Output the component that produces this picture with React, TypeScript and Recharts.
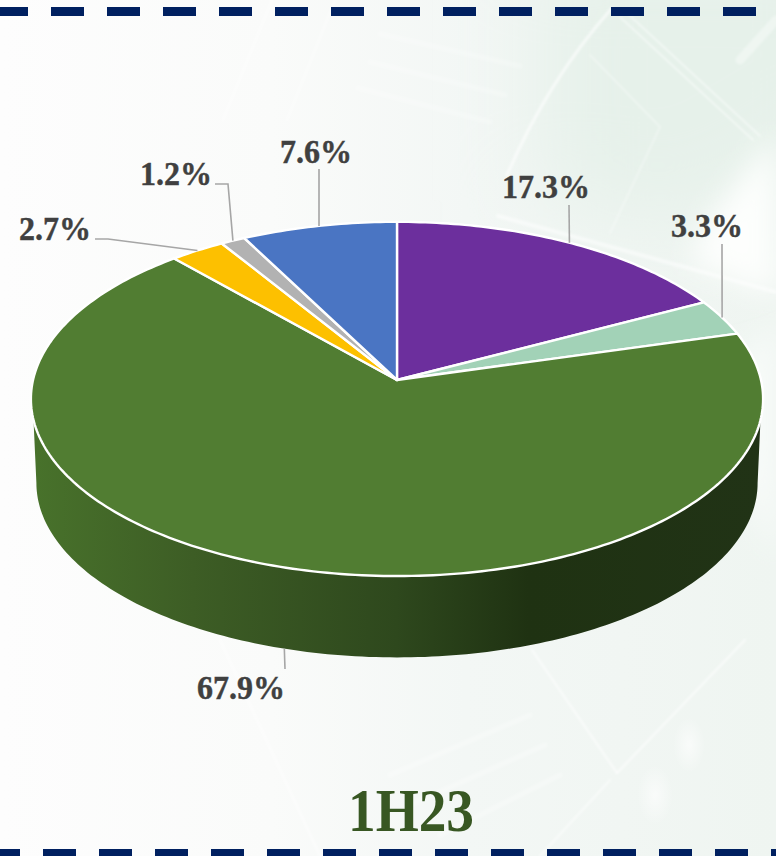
import { PieChart, Pie, Cell } from 'recharts';

const categories = ['Purple', 'Mint', 'Green', 'Amber', 'Gray', 'Blue'];
const shares = [17.3, 3.3, 67.9, 2.7, 1.2, 7.6];
const sliceColors = ['#6c2f9d', '#a2d2b7', '#517d32', '#fdc000', '#b2b2b2', '#4a75c3'];
const periodLabel = '1H23';

const chartData = categories.map((name, i) => ({ name, value: shares[i] }));

// hand placed label spots, one per slice, same order as shares
const labelLayout = [
    { onBase: false, bends: [[569, 205]], x: 502, y: 198, width: 88 },
    { onBase: false, bends: [[722, 244]], x: 671, y: 237, width: 72 },
    { onBase: true, bends: [[285, 669]], x: 197, y: 699, width: 88 },
    { onBase: false, bends: [[108, 239], [95, 239]], x: 19, y: 240, width: 72 },
    { onBase: false, bends: [[228, 184], [215, 184]], x: 140, y: 185, width: 72 },
    { onBase: false, bends: [[319, 169]], x: 280, y: 163, width: 72 },
];

// perspective of the tilted disc
const TILT = 0.107;
const SQUASH = 0.481;
const DEPTH = 84;
const BASE_SCALE = 0.985;
const TOP_EDGE_ANGLE = 12.9;
const BASE_EDGE_ANGLE = 6.1;

const SERIF = '"Liberation Serif", serif';

function project(deg: number, cx: number, cy: number, r: number) {
    const rad = (deg * Math.PI) / 180;
    const X = Math.cos(rad);
    const Y = Math.sin(rad);
    const d = 1 + TILT * Y;
    return [cx + (r * X) / d, cy - (r * SQUASH * Y) / d];
}

function projectBase(deg: number, cx: number, cy: number, r: number) {
    const [px, py] = project(deg, cx, cy, r);
    const midY = cy + (r * SQUASH * TILT) / (1 - TILT * TILT);
    return [cx + (px - cx) * BASE_SCALE, midY + (py - midY) * BASE_SCALE + DEPTH];
}

function arcPoints(from: number, to: number, fn: (deg: number) => number[]) {
    const steps = Math.max(2, Math.ceil(Math.abs(from - to)));
    const pts: string[] = [];
    for (let i = 0; i <= steps; i++) {
        const p = fn(from + ((to - from) * i) / steps);
        pts.push(`${p[0].toFixed(2)} ${p[1].toFixed(2)}`);
    }
    return pts;
}

function DiscSlice(props: any) {
    const { cx, cy, outerRadius, startAngle, endAngle, fill } = props;
    const top = (deg: number) => project(deg, cx, cy, outerRadius);
    const base = (deg: number) => projectBase(deg, cx, cy, outerRadius);
    const face = `M${cx} ${cy} L${arcPoints(startAngle, endAngle, top).join(' L')} Z`;

    // side wall only where the slice passes the front of the disc
    const topFrom = Math.min(startAngle, -TOP_EDGE_ANGLE);
    const topTo = Math.max(endAngle, -180 + TOP_EDGE_ANGLE);
    const baseFrom = Math.min(startAngle, -BASE_EDGE_ANGLE);
    const baseTo = Math.max(endAngle, -180 + BASE_EDGE_ANGLE);
    const hasWall = topFrom > topTo;
    const wall = hasWall
        ? `M${arcPoints(topFrom, topTo, top).join(' L')} L${arcPoints(baseTo, baseFrom, base).join(' L')} Z`
        : '';

    return (
        <g>
            {hasWall && (
                <>
                    <defs>
                        <linearGradient id="wallShade" gradientUnits="userSpaceOnUse" x1={32} y1={0} x2={762} y2={0}>
                            <stop offset="0%" stopColor="#48722b" />
                            <stop offset="22%" stopColor="#3d5d25" />
                            <stop offset="50%" stopColor="#2e481d" />
                            <stop offset="68%" stopColor="#1f3212" />
                            <stop offset="100%" stopColor="#213316" />
                        </linearGradient>
                    </defs>
                    <path d={wall} fill="url(#wallShade)" stroke="none" />
                </>
            )}
            <path d={face} fill={fill} stroke="#ffffff" strokeWidth={2.4} strokeLinejoin="round" />
        </g>
    );
}

function SliceLabel(props: any) {
    const { cx, cy, outerRadius, midAngle, index, value } = props;
    const spot = labelLayout[index];
    const start = spot.onBase
        ? projectBase(midAngle, cx, cy, outerRadius)
        : project(midAngle, cx, cy, outerRadius);
    const points = [start, ...spot.bends].map(p => p.join(',')).join(' ');
    return (
        <g>
            <polyline points={points} fill="none" stroke="#a6a6a6" strokeWidth={1.6} />
            <text
                x={spot.x}
                y={spot.y}
                textAnchor="start"
                textLength={spot.width}
                lengthAdjust="spacingAndGlyphs"
                fontFamily={SERIF}
                fontWeight="bold"
                fontSize={33}
                fill="#404040"
                stroke="#404040"
                strokeWidth={0.4}
            >
                {`${value}%`}
            </text>
        </g>
    );
}

function Backdrop() {
    return (
        <svg width={776} height={856} style={{ position: 'absolute', left: 0, top: 0 }}>
            <defs>
                <linearGradient id="wash" x1="0" y1="0" x2="1" y2="0">
                    <stop offset="0%" stopColor="#fdfdfd" />
                    <stop offset="35%" stopColor="#fafbfa" />
                    <stop offset="60%" stopColor="#f3f7f5" />
                    <stop offset="100%" stopColor="#eff5f1" />
                </linearGradient>
                <radialGradient id="glow">
                    <stop offset="0%" stopColor="#ffffff" stopOpacity={0.6} />
                    <stop offset="100%" stopColor="#ffffff" stopOpacity={0} />
                </radialGradient>
                <filter id="wide" filterUnits="userSpaceOnUse" x={200} y={-200} width={800} height={700}>
                    <feGaussianBlur stdDeviation="45" />
                </filter>
                <filter id="soft" x="-30%" y="-30%" width="160%" height="160%">
                    <feGaussianBlur stdDeviation="14" />
                </filter>
                <filter id="softLine">
                    <feGaussianBlur stdDeviation="1" />
                </filter>
            </defs>
            <rect width={776} height={856} fill="url(#wash)" />
            <path d="M540 -60 L860 -60 L860 130 L690 230 L540 200 Z" fill="#e6f1ea" filter="url(#wide)" />
            <path d="M776 135 L705 225 L690 262 L776 296 Z" fill="#fdfefd" filter="url(#soft)" />
            <path d="M776 320 L710 400 L776 560 Z" fill="#f8fbf9" filter="url(#soft)" />
            <g fill="none" stroke="#ffffff" strokeLinecap="round" filter="url(#softLine)">
                <path d="M612 8 Q548 80 507 175" strokeWidth={3} strokeOpacity={0.6} />
                <path d="M272 0 L223 120" strokeWidth={2} strokeOpacity={0.4} />
                <path d="M335 0 L287 120" strokeWidth={2} strokeOpacity={0.4} />
                <path d="M620 17 L753 140" strokeWidth={1.5} strokeOpacity={0.6} />
                <path d="M627 13 L760 136" strokeWidth={1.5} strokeOpacity={0.6} />
                <path d="M590 55 L660 127 L610 233" strokeWidth={1.5} strokeOpacity={0.4} />
                <path d="M498 216 L776 292" strokeWidth={4} strokeOpacity={0.5} />
                <path d="M380 34 L520 66" strokeWidth={5} strokeOpacity={0.2} />
                <path d="M370 62 L505 95" strokeWidth={5} strokeOpacity={0.2} />
                <path d="M358 88 L490 122" strokeWidth={5} strokeOpacity={0.2} />
                <path d="M740 60 L776 20" strokeWidth={9} strokeOpacity={0.35} />
                <path d="M220 640 L320 856" strokeWidth={2} strokeOpacity={0.5} />
                <path d="M532 650 L617 773" strokeWidth={2} strokeOpacity={0.6} />
                <path d="M617 773 L745 640" strokeWidth={2} strokeOpacity={0.6} />
                <path d="M610 780 L540 856" strokeWidth={2} strokeOpacity={0.5} />
                <path d="M390 775 L530 715" strokeWidth={5} strokeOpacity={0.25} />
                <path d="M410 805 L545 745" strokeWidth={5} strokeOpacity={0.25} />
                <path d="M440 835 L560 775" strokeWidth={5} strokeOpacity={0.25} />
            </g>
            <ellipse cx={689} cy={745} rx={16} ry={28} fill="url(#glow)" />
            <ellipse cx={655} cy={795} rx={18} ry={30} fill="url(#glow)" />
            <line x1={-5} y1={11.5} x2={776} y2={11.5} stroke="#002060" strokeWidth={9} strokeDasharray="33 23" />
            <line x1={-13} y1={852.5} x2={776} y2={852.5} stroke="#002060" strokeWidth={7} strokeDasharray="33 23" />
            <text
                x={348}
                y={831}
                textLength={126}
                lengthAdjust="spacingAndGlyphs"
                fontFamily={SERIF}
                fontWeight="bold"
                fontSize={61}
                fill="#385723"
            >
                {periodLabel}
            </text>
        </svg>
    );
}

export default function App() {
    return (
        <div style={{ position: 'absolute', left: 0, top: 0, width: 776, height: 856, overflow: 'hidden' }}>
            <Backdrop />
            <div style={{ position: 'absolute', left: 0, top: 0 }}>
                <PieChart width={776} height={856} margin={{ top: 0, right: 0, bottom: 0, left: 0 }}>
                    <Pie
                        data={chartData}
                        dataKey="value"
                        nameKey="name"
                        cx={397}
                        cy={380}
                        outerRadius={364}
                        startAngle={90}
                        endAngle={-270}
                        shape={DiscSlice}
                        inactiveShape={DiscSlice}
                        label={SliceLabel}
                        labelLine={false}
                        isAnimationActive={false}
                    >
                        {chartData.map((d, i) => (
                            <Cell key={d.name} fill={sliceColors[i]} />
                        ))}
                    </Pie>
                </PieChart>
            </div>
        </div>
    );
}
